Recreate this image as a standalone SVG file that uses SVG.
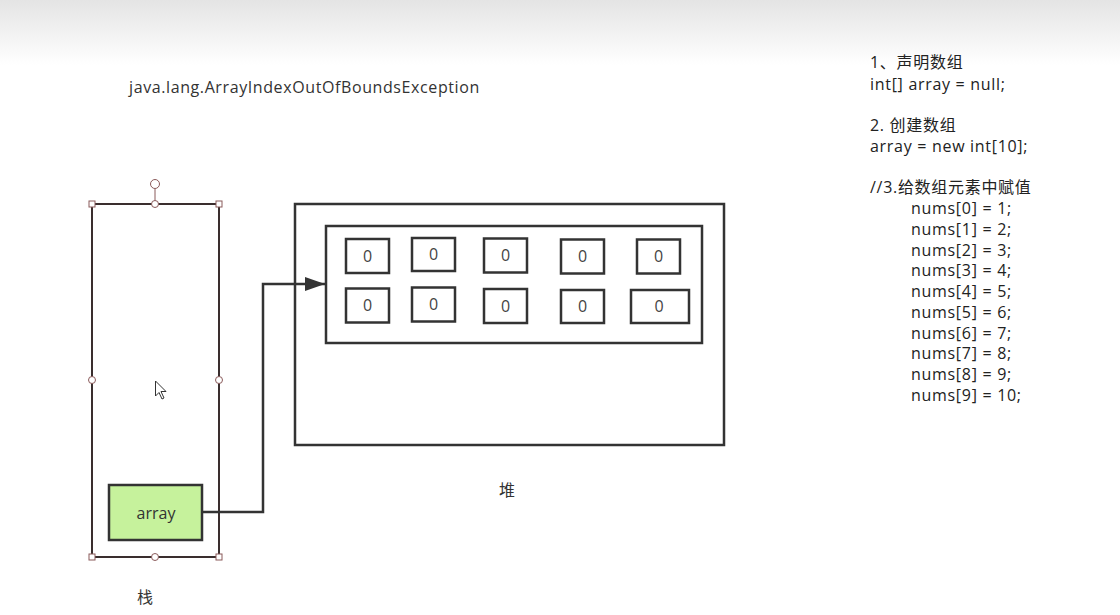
<svg xmlns="http://www.w3.org/2000/svg" width="1120" height="615" viewBox="0 0 1120 615">
<defs>
<linearGradient id="topg" x1="0" y1="0" x2="0" y2="1">
<stop offset="0" stop-color="#e4e4e4"/>
<stop offset="1" stop-color="#ffffff"/>
</linearGradient>
<marker id="arr" markerWidth="20" markerHeight="14" refX="20" refY="7" orient="auto" markerUnits="userSpaceOnUse" viewBox="0 0 20 14">
<path d="M0,0 L20,7 L0,14 Z" fill="#333"/>
</marker>
<style>
text{font-family:"Open Sans","Noto Sans CJK SC",sans-serif;fill:#333;font-size:16px}
.box{fill:none;stroke:#333;stroke-width:2.5}
.cell{fill:#fff;stroke:#333;stroke-width:2.5}
.cellt{text-anchor:middle;font-size:16px;fill:#444}
.h{fill:#fff;stroke:#8a5a5a;stroke-width:1}
.code{font-size:16px;fill:#222;letter-spacing:0.7px}
</style>
</defs>
<rect x="0" y="0" width="1120" height="615" fill="#fff"/>
<rect x="0" y="0" width="1120" height="65" fill="url(#topg)"/>

<text x="129" y="93" font-size="16" letter-spacing="0.6">java.lang.ArrayIndexOutOfBoundsException</text>

<g id="stack">
<rect x="92" y="204" width="127" height="353" fill="none" stroke="#3a2e2e" stroke-width="2"/>
<line x1="155" y1="189" x2="155" y2="204" stroke="#8a5a5a" stroke-width="1"/>
<circle class="h" cx="155" cy="184" r="4.5"/>
<rect class="h" x="89" y="201" width="6" height="6"/>
<rect class="h" x="216" y="201" width="6" height="6"/>
<rect class="h" x="89" y="554" width="6" height="6"/>
<rect class="h" x="216" y="554" width="6" height="6"/>
<circle class="h" cx="155" cy="204" r="3.5"/>
<circle class="h" cx="155" cy="557" r="3.5"/>
<circle class="h" cx="92" cy="380" r="3.5"/>
<circle class="h" cx="219" cy="380" r="3.5"/>
<path d="M155.5,381 L155.5,396 L159,392.5 L162,399 L164,398 L161,391.5 L166,391.5 Z" fill="#fff" stroke="#333" stroke-width="1"/>
<text x="145" y="603" text-anchor="middle" font-size="16">栈</text>
</g>

<g id="array-ref">
<rect x="109" y="485" width="93" height="55" fill="#c6f29c" stroke="#333" stroke-width="2.5"/>
<text x="156" y="519" text-anchor="middle" font-size="16">array</text>
</g>

<g id="heap">
<rect class="box" x="295" y="204" width="429" height="241"/>
<text x="507" y="496" text-anchor="middle" font-size="16">堆</text>
</g>

<g id="array-object">
<rect class="box" x="326" y="226" width="376" height="117"/>
<g id="cells">
<rect class="cell" x="346" y="239" width="43" height="34"/><text class="cellt" x="367.5" y="262">0</text>
<rect class="cell" x="412" y="238" width="43" height="33"/><text class="cellt" x="433.5" y="260">0</text>
<rect class="cell" x="484" y="238.5" width="43" height="34"/><text class="cellt" x="505.5" y="261">0</text>
<rect class="cell" x="561" y="239.5" width="43" height="34"/><text class="cellt" x="582.5" y="262">0</text>
<rect class="cell" x="637" y="239.5" width="43" height="34"/><text class="cellt" x="658.5" y="262">0</text>
<rect class="cell" x="346" y="288.5" width="43" height="34"/><text class="cellt" x="367.5" y="311">0</text>
<rect class="cell" x="412" y="287.5" width="43" height="34"/><text class="cellt" x="433.5" y="310">0</text>
<rect class="cell" x="484" y="289" width="43" height="34"/><text class="cellt" x="505.5" y="312">0</text>
<rect class="cell" x="561" y="290" width="43" height="33"/><text class="cellt" x="582.5" y="312">0</text>
<rect class="cell" x="631" y="290" width="58" height="33"/><text class="cellt" x="659" y="312">0</text>
</g>
</g>

<g id="connectors">
<path d="M202,512 H263 V284 H325" fill="none" stroke="#333" stroke-width="2.5" marker-end="url(#arr)"/>
</g>

<g id="code">
<text class="code" x="870" y="68">1、声明数组</text>
<text class="code" x="870" y="90">int[] array = null;</text>
<text class="code" x="870" y="131">2. 创建数组</text>
<text class="code" x="870" y="152">array = new int[10];</text>
<text class="code" x="870" y="193">//3.给数组元素中赋值</text>
<text class="code" x="911" y="214">nums[0] = 1;</text>
<text class="code" x="911" y="235">nums[1] = 2;</text>
<text class="code" x="911" y="256">nums[2] = 3;</text>
<text class="code" x="911" y="276">nums[3] = 4;</text>
<text class="code" x="911" y="297">nums[4] = 5;</text>
<text class="code" x="911" y="318">nums[5] = 6;</text>
<text class="code" x="911" y="339">nums[6] = 7;</text>
<text class="code" x="911" y="359">nums[7] = 8;</text>
<text class="code" x="911" y="380">nums[8] = 9;</text>
<text class="code" x="911" y="401">nums[9] = 10;</text>
</g>
</svg>
